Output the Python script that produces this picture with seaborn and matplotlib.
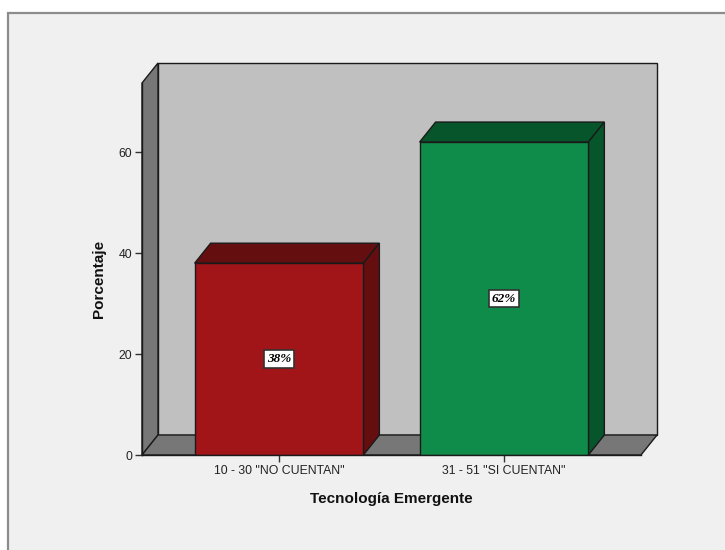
import matplotlib
matplotlib.use("Agg")
import matplotlib.pyplot as plt
import matplotlib.transforms as mtransforms
from matplotlib.patches import Polygon, Rectangle
import seaborn as sns
import pandas as pd

categories = ['10 - 30 "NO CUENTAN"', '31 - 51 "SI CUENTAN"']
percentages = [38, 62]
bar_labels = ["38%", "62%"]
yticks = [0, 20, 40, 60]
front_colors = ["#A11519", "#0F8C49"]
dark_colors = ["#640E10", "#07552A"]
x_title = "Tecnología Emergente"
y_title = "Porcentaje"

sns.set_theme(style="white")
plt.rcParams["font.family"] = ["Liberation Sans", "DejaVu Sans"]

W, H, DPI = 725, 550, 100
fig = plt.figure(figsize=(W / DPI, H / DPI), dpi=DPI, facecolor="white")

# outer panel
fig.patches.append(Rectangle((8 / W, -0.1), 1.2, (H - 13) / H + 0.1,
                             transform=fig.transFigure, facecolor="#F0F0F0",
                             edgecolor="#8C8C8C", lw=1.6, zorder=-10))

left, right, bottom, top = 142, 641, 455, 83
ax = fig.add_axes([left / W, (H - bottom) / H, (right - left) / W, (bottom - top) / H])
ax.set_facecolor("none")

df = pd.DataFrame({"cat": categories, "pct": percentages})
sns.barplot(data=df, x="cat", y="pct", hue="cat", palette=front_colors,
            width=0.75, ax=ax, legend=False, saturation=1,
            edgecolor="#1A1A1A", linewidth=1.0, zorder=5)
bars = list(ax.patches)

xmin, xmax = -0.609, 1.609
ymin, ymax = 0, 73.7
ax.set_xlim(xmin, xmax)
ax.set_ylim(ymin, ymax)

# depth offset in pixels (16 right, 20 up)
off = mtransforms.ScaledTranslation(16 / DPI, 20 / DPI, fig.dpi_scale_trans)
tback = ax.transData + off
tfront = ax.transData

edge = "#1A1A1A"

def quad(pts_front, pts_back, fc, z):
    disp = [tfront.transform(p) for p in pts_front] + [tback.transform(p) for p in pts_back]
    poly = Polygon(disp, closed=True, transform=mtransforms.IdentityTransform(),
                   facecolor=fc, edgecolor=edge, lw=1.0, zorder=z, clip_on=False)
    ax.add_artist(poly)

# back wall
bw = Rectangle((xmin, ymin), xmax - xmin, ymax - ymin, transform=tback,
               facecolor="#C0C0C0", edgecolor=edge, lw=1.0, zorder=0, clip_on=False)
ax.add_patch(bw)
# left wall
quad([(xmin, ymin), (xmin, ymax)], [(xmin, ymax), (xmin, ymin)], "#777777", 1)
# floor
quad([(xmin, ymin), (xmax, ymin)], [(xmax, ymin), (xmin, ymin)], "#777777", 1)

for i, bar in enumerate(bars):
    x0 = bar.get_x()
    x1 = x0 + bar.get_width()
    h = bar.get_height()
    bar.set_zorder(5)
    quad([(x0, h), (x1, h)], [(x1, h), (x0, h)], dark_colors[i], 4)
    quad([(x1, 0), (x1, h)], [(x1, h), (x1, 0)], dark_colors[i], 4)
    ax.text((x0 + x1) / 2, h / 2, bar_labels[i], ha="center", va="center",
            fontsize=9.5, fontweight="bold", fontstyle="italic",
            family=["Liberation Serif", "DejaVu Serif"], color="black", zorder=10,
            bbox=dict(boxstyle="square,pad=0.2", facecolor="white",
                      edgecolor="#333333", lw=1.2))

ax.set_yticks(yticks)
ax.set_yticklabels([str(t) for t in yticks])
for s in ["top", "right"]:
    ax.spines[s].set_visible(False)
for s in ["left", "bottom"]:
    ax.spines[s].set_color(edge)
    ax.spines[s].set_linewidth(1.0)
    ax.spines[s].set_zorder(6)
ax.tick_params(axis="both", which="both", direction="out", length=5, width=1,
               color="#333333", labelsize=8.8, labelcolor="#222222", pad=2,
               left=True, bottom=True)
ax.set_xlabel(x_title, fontsize=11, fontweight="bold", labelpad=11, color="#111111")
ax.set_ylabel(y_title, fontsize=11, fontweight="bold", color="#111111")
ax.yaxis.set_label_coords(-0.072, 0.473)

fig.savefig("out.png", dpi=DPI, facecolor=fig.get_facecolor())
